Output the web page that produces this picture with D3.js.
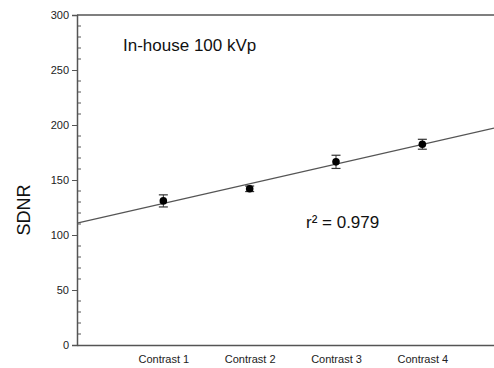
<!DOCTYPE html>
<html>
<head>
<meta charset="utf-8">
<script src="https://cdn.jsdelivr.net/npm/d3@7"></script>
<style>
  body { margin: 0; background: #fff; }
  text { font-family: "Liberation Sans", Arial, sans-serif; }
</style>
</head>
<body>
<div id="chart"></div>
<script>
var categories = ["Contrast 1", "Contrast 2", "Contrast 3", "Contrast 4"];
var sdnr = [131, 142, 166.5, 182.5];
var sdnrErr = [5.5, 2.5, 6, 4.5];
var yMajorTicks = [0, 50, 100, 150, 200, 250, 300];
var chartTitle = "In-house 100 kVp";
var fitLabel = "r\u00b2 = 0.979";

var W = 494, H = 368;
var m = {l: 77, r: 0, t: 15, b: 23};

var svg = d3.select("#chart").append("svg")
    .attr("width", W).attr("height", H);

// categories sit at 1..4 on a linear x axis
var x = d3.scaleLinear().domain([0, 4.83]).range([m.l, W - m.r]);
var y = d3.scaleLinear().domain([0, 300]).range([H - m.b, m.t]);

// least squares fit through the means
var xs = categories.map(function(d, i) { return i + 1; });
var mx = d3.mean(xs), my = d3.mean(sdnr);
var sxy = d3.sum(xs, function(v, i) { return (v - mx) * (sdnr[i] - my); });
var sxx = d3.sum(xs, function(v) { return (v - mx) * (v - mx); });
var slope = sxy / sxx, icpt = my - slope * mx;

var axisColor = "#555";

// frame: top line, left axis, bottom axis
svg.append("line")
    .attr("x1", x(0)).attr("x2", W).attr("y1", y(300)).attr("y2", y(300))
    .attr("stroke", axisColor).attr("stroke-width", 1.5);

// minor ticks every 10, drawn inside
var minor = d3.range(0, 301, 10).filter(function(v) { return v % 50 != 0; });
svg.append("g").selectAll("line").data(minor).enter().append("line")
    .attr("x1", x(0)).attr("x2", x(0) + 4)
    .attr("y1", function(d) { return y(d); }).attr("y2", function(d) { return y(d); })
    .attr("stroke", axisColor).attr("stroke-width", 1);

var yAxis = d3.axisLeft(y).tickValues(yMajorTicks).tickSize(5).tickPadding(3);
var gy = svg.append("g").attr("transform", "translate(" + x(0) + ",0)").call(yAxis);
gy.select(".domain").attr("stroke", axisColor).attr("stroke-width", 1.5);
gy.selectAll(".tick line").attr("stroke", axisColor);
gy.selectAll(".tick text").attr("font-size", 11).attr("fill", "#222")
    .style("font-family", "Liberation Sans, Arial, sans-serif");

var xAxis = d3.axisBottom(x).tickValues(xs).tickSize(0).tickPadding(10)
    .tickFormat(function(d) { return categories[d - 1]; });
var gx = svg.append("g").attr("transform", "translate(0," + y(0) + ")").call(xAxis);
gx.select(".domain").attr("stroke", axisColor).attr("stroke-width", 1.5);
gx.selectAll(".tick text").attr("font-size", 11).attr("fill", "#222")
    .style("font-family", "Liberation Sans, Arial, sans-serif");

// regression line
svg.append("line")
    .attr("x1", x(0)).attr("y1", y(icpt))
    .attr("x2", x(4.83)).attr("y2", y(icpt + slope * 4.83))
    .attr("stroke", "#555").attr("stroke-width", 1.2);

// error bars
var eb = svg.append("g").selectAll("g").data(sdnr).enter().append("g");
eb.append("line")
    .attr("x1", function(d, i) { return x(i + 1); })
    .attr("x2", function(d, i) { return x(i + 1); })
    .attr("y1", function(d, i) { return y(d - sdnrErr[i]); })
    .attr("y2", function(d, i) { return y(d + sdnrErr[i]); })
    .attr("stroke", "#333").attr("stroke-width", 1);
[-1, 1].forEach(function(s) {
  eb.append("line")
      .attr("x1", function(d, i) { return x(i + 1) - 4.5; })
      .attr("x2", function(d, i) { return x(i + 1) + 4.5; })
      .attr("y1", function(d, i) { return y(d + s * sdnrErr[i]); })
      .attr("y2", function(d, i) { return y(d + s * sdnrErr[i]); })
      .attr("stroke", "#333").attr("stroke-width", 1.2);
});

svg.append("g").selectAll("circle").data(sdnr).enter().append("circle")
    .attr("cx", function(d, i) { return x(i + 1); })
    .attr("cy", function(d) { return y(d); })
    .attr("r", 3.8).attr("fill", "#000");

svg.append("text")
    .attr("x", 123).attr("y", 51)
    .attr("font-size", 17).attr("fill", "#111")
    .text(chartTitle);

svg.append("text")
    .attr("x", 306).attr("y", 228)
    .attr("font-size", 17).attr("fill", "#111")
    .text(fitLabel);

svg.append("text")
    .attr("transform", "translate(30," + ((m.t + H - m.b) / 2 + 30) + ") rotate(-90)")
    .attr("text-anchor", "middle")
    .attr("font-size", 18).attr("fill", "#111")
    .text("SDNR");
</script>
</body>
</html>
